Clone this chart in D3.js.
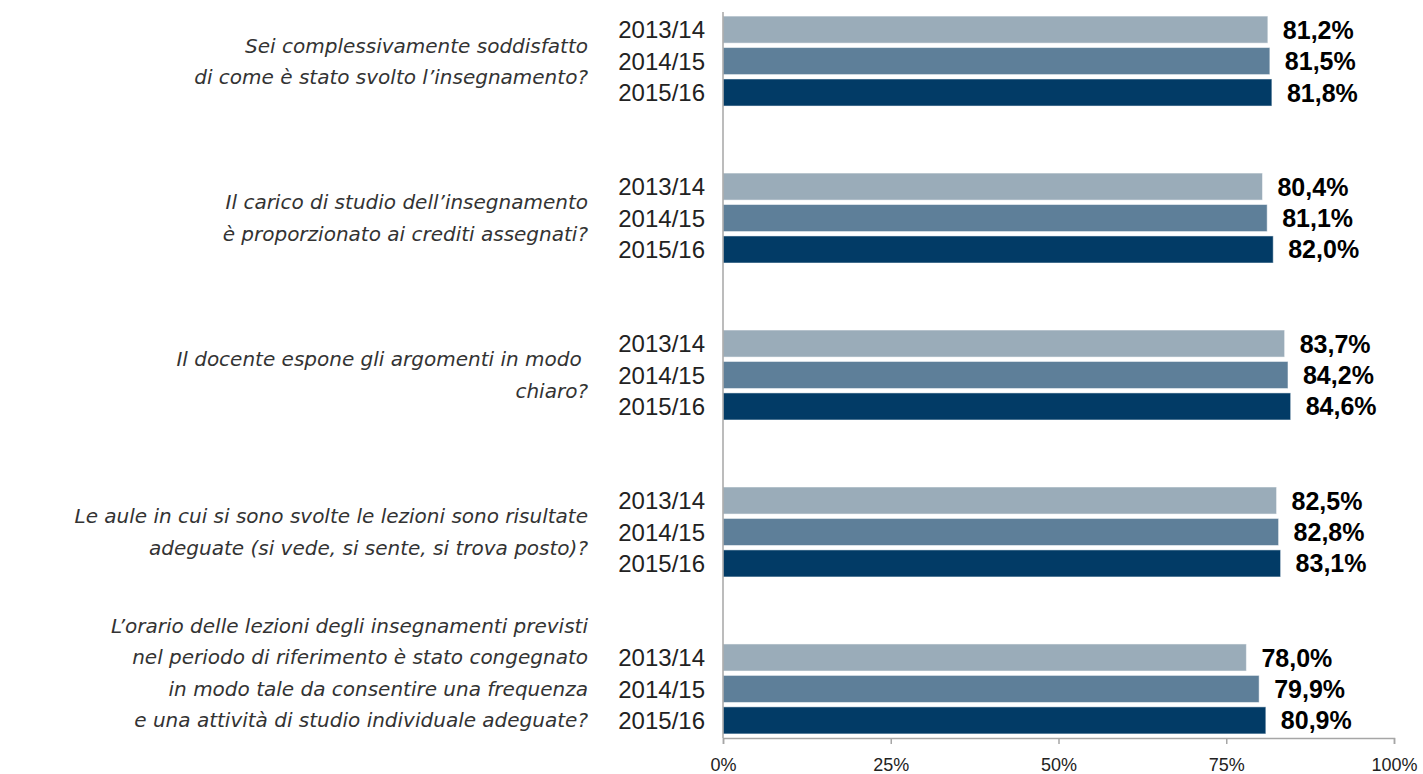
<!DOCTYPE html>
<html>
<head>
<meta charset="utf-8">
<script src="https://cdn.jsdelivr.net/npm/d3@7"></script>
<style>
  body { margin: 0; background: #fff; }
</style>
</head>
<body>
<div id="chart"></div>
<script>
var questions = [
    ["Sei complessivamente soddisfatto", "di come è stato svolto l\u2019insegnamento?"],
    ["Il carico di studio dell\u2019insegnamento", "è proporzionato ai crediti assegnati?"],
    ["Il docente espone gli argomenti in modo ", "chiaro?"],
    ["Le aule in cui si sono svolte le lezioni sono risultate", "adeguate (si vede, si sente, si trova posto)?"],
    ["L\u2019orario delle lezioni degli insegnamenti previsti", "nel periodo di riferimento è stato congegnato",
     "in modo tale da consentire una frequenza", "e una attività di studio individuale adeguate?"]
];
var years = ["2013/14", "2014/15", "2015/16"];
var v2013 = [81.2, 80.4, 83.7, 82.5, 78.0];
var v2014 = [81.5, 81.1, 84.2, 82.8, 79.9];
var v2015 = [81.8, 82.0, 84.6, 83.1, 80.9];
var ticks = [0, 25, 50, 75, 100];

var colors = ["#9aacb9", "#5e7f99", "#023b66"];
var series = [v2013, v2014, v2015];

var w = 1423, h = 774;
var x0 = 723, x1 = 1394, yTop = 12, yBottom = 738;

var svg = d3.select("#chart").append("svg")
    .attr("width", w)
    .attr("height", h);

var xScale = d3.scaleLinear().domain([0, 100]).range([x0, x1]);

var yScale = d3.scaleBand()
    .domain(d3.range(questions.length))
    .range([yTop, yBottom])
    .paddingInner(0.427)
    .paddingOuter(0.026);

var ySub = d3.scaleBand()
    .domain(years)
    .range([0, yScale.bandwidth()])
    .paddingInner(0.14);

var groups = svg.selectAll(".group")
    .data(questions)
    .enter().append("g")
    .attr("class", "group")
    .attr("transform", function (d, i) { return "translate(0," + yScale(i) + ")"; });

groups.each(function (q, i) {
    var g = d3.select(this);
    years.forEach(function (yr, j) {
        var val = series[j][i];
        g.append("rect")
            .attr("x", xScale(0))
            .attr("y", ySub(yr))
            .attr("width", xScale(val) - xScale(0))
            .attr("height", ySub.bandwidth())
            .style("fill", colors[j])
            .style("stroke", "#ffffff")
            .style("stroke-opacity", 0.5)
            .style("stroke-width", 1);

        g.append("text")
            .attr("x", xScale(val) + 15)
            .attr("y", ySub(yr) + ySub.bandwidth() / 2)
            .attr("dy", "0.36em")
            .text(d3.format(".1f")(val).replace(".", ",") + "%")
            .style("font-family", "Liberation Sans, Arial, sans-serif")
            .style("font-weight", "bold")
            .style("font-size", "25px")
            .style("fill", "#000");

        g.append("text")
            .attr("x", 705)
            .attr("y", ySub(yr) + ySub.bandwidth() / 2)
            .attr("dy", "0.36em")
            .attr("text-anchor", "end")
            .text(yr)
            .style("font-family", "Liberation Sans, Arial, sans-serif")
            .style("font-size", "24px")
            .style("fill", "#222");
    });

    // question label, right aligned left of the year labels
    var lineH = 31.5;
    var center = yScale.bandwidth() / 2 - (q.length > 2 ? 16 : 0);
    var t = g.append("text")
        .attr("text-anchor", "end")
        .style("font-family", "DejaVu Sans, sans-serif")
        .style("font-style", "italic")
        .style("font-size", "20px")
        .style("fill", "#333");
    q.forEach(function (line, k) {
        t.append("tspan")
            .attr("x", 588)
            .attr("y", center + (k - (q.length - 1) / 2) * lineH)
            .attr("dy", "0.36em")
            .style("white-space", "pre")
            .text(line);
    });
});

// vertical axis line
svg.append("line")
    .attr("x1", x0).attr("x2", x0)
    .attr("y1", yTop).attr("y2", yBottom)
    .style("stroke", "#a6a6a6")
    .style("stroke-width", 1.5);

// X axis
var xAxis = svg.append("g")
    .attr("class", "x axis")
    .attr("transform", "translate(0," + yBottom + ")")
    .call(d3.axisBottom(xScale)
        .tickValues(ticks)
        .tickSize(6)
        .tickPadding(14)
        .tickFormat(function (d) { return d + "%"; }));

xAxis.select(".domain").style("stroke", "#a6a6a6").style("stroke-width", 1.5);
xAxis.selectAll(".tick line").style("stroke", "#a6a6a6").style("stroke-width", 1.5);
xAxis.selectAll(".tick text")
    .style("font-family", "Liberation Sans, Arial, sans-serif")
    .style("font-size", "18px")
    .style("fill", "#222");
</script>
</body>
</html>
